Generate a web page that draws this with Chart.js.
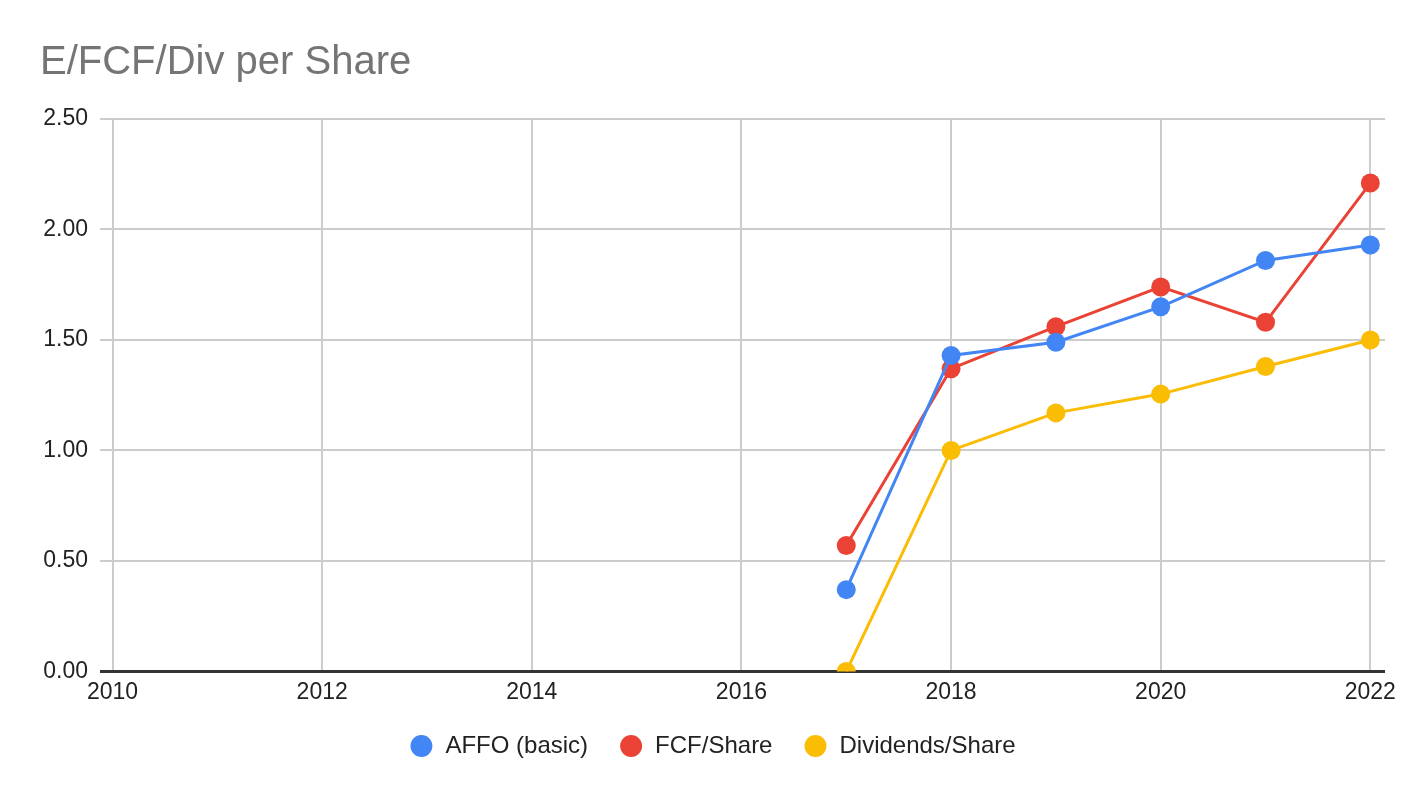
<!DOCTYPE html>
<html>
<head>
<meta charset="utf-8">
<script src="https://cdn.jsdelivr.net/npm/chart.js@4/dist/chart.umd.min.js"></script>
<style>
  html, body { margin: 0; padding: 0; background: #fff; }
  #wrap { width: 1424px; height: 798px; }
</style>
</head>
<body>
<div id="wrap"><canvas id="myChart"></canvas></div>
<script>
const years = [2017, 2018, 2019, 2020, 2021, 2022];
const affoBasic = [0.37, 1.43, 1.49, 1.65, 1.86, 1.93];
const fcfShare = [0.57, 1.37, 1.56, 1.74, 1.58, 2.21];
const divShare = [0.0, 1.0, 1.17, 1.255, 1.38, 1.5];
const xTicks = [2010, 2012, 2014, 2016, 2018, 2020, 2022];
const yTicks = [0, 0.5, 1.0, 1.5, 2.0, 2.5];

function points(values) {
  return years.map((y, i) => ({ x: y, y: values[i] }));
}

function series(label, values, color) {
  return {
    label: label,
    data: points(values),
    borderColor: color,
    backgroundColor: color,
    borderWidth: 3,
    pointRadius: 9.5,
    pointHoverRadius: 9.5,
    pointBorderWidth: 0,
    tension: 0,
  };
}

Chart.defaults.font.family = "'Liberation Sans', Arial, sans-serif";
Chart.defaults.color = "#222";

new Chart(document.getElementById("myChart").getContext("2d"), {
  type: "line",
  data: {
    datasets: [
      series("AFFO (basic)", affoBasic, "#4285f4"),
      series("FCF/Share", fcfShare, "#ea4335"),
      series("Dividends/Share", divShare, "#fbbc04"),
    ],
  },
  options: {
    responsive: true,
    maintainAspectRatio: false,
    animation: false,
    layout: { padding: { left: 40, right: 39, top: 20, bottom: 30 } },
    plugins: {
      title: {
        display: true,
        text: "E/FCF/Div per Share",
        align: "start",
        color: "#757575",
        font: { size: 40, weight: "normal" },
        padding: { top: 19, bottom: 32 },
      },
      legend: {
        position: "bottom",
        labels: {
          usePointStyle: true,
          pointStyle: "circle",
          boxWidth: 31,
          boxHeight: 15.5,
          padding: 31,
          color: "#222",
          font: { size: 24 },
        },
      },
      tooltip: { enabled: false },
    },
    scales: {
      x: {
        type: "linear",
        min: 2009.88,
        max: 2022.14,
        afterBuildTicks: (scale) => {
          scale.ticks = xTicks.map((v) => ({ value: v }));
        },
        afterFit: (scale) => {
          scale.height = scale.height - 10;
        },
        grid: { color: "#cccccc", lineWidth: 2, drawTicks: false },
        border: { display: false },
        ticks: {
          font: { size: 23 },
          color: "#222",
          padding: 7,
          maxRotation: 0,
          callback: (v) => String(v),
        },
      },
      y: {
        min: 0,
        max: 2.5,
        afterBuildTicks: (scale) => {
          scale.ticks = yTicks.map((v) => ({ value: v }));
        },
        afterFit: (scale) => {
          scale.width = 60;
        },
        grid: {
          color: (ctx) => (ctx.tick && ctx.tick.value === 0 ? "#333333" : "#cccccc"),
          lineWidth: (ctx) => (ctx.tick && ctx.tick.value === 0 ? 3 : 2),
          drawTicks: false,
        },
        border: { display: false },
        ticks: {
          font: { size: 23 },
          color: "#222",
          padding: 12,
          callback: (v) => v.toFixed(2),
        },
      },
    },
  },
});
</script>
</body>
</html>
